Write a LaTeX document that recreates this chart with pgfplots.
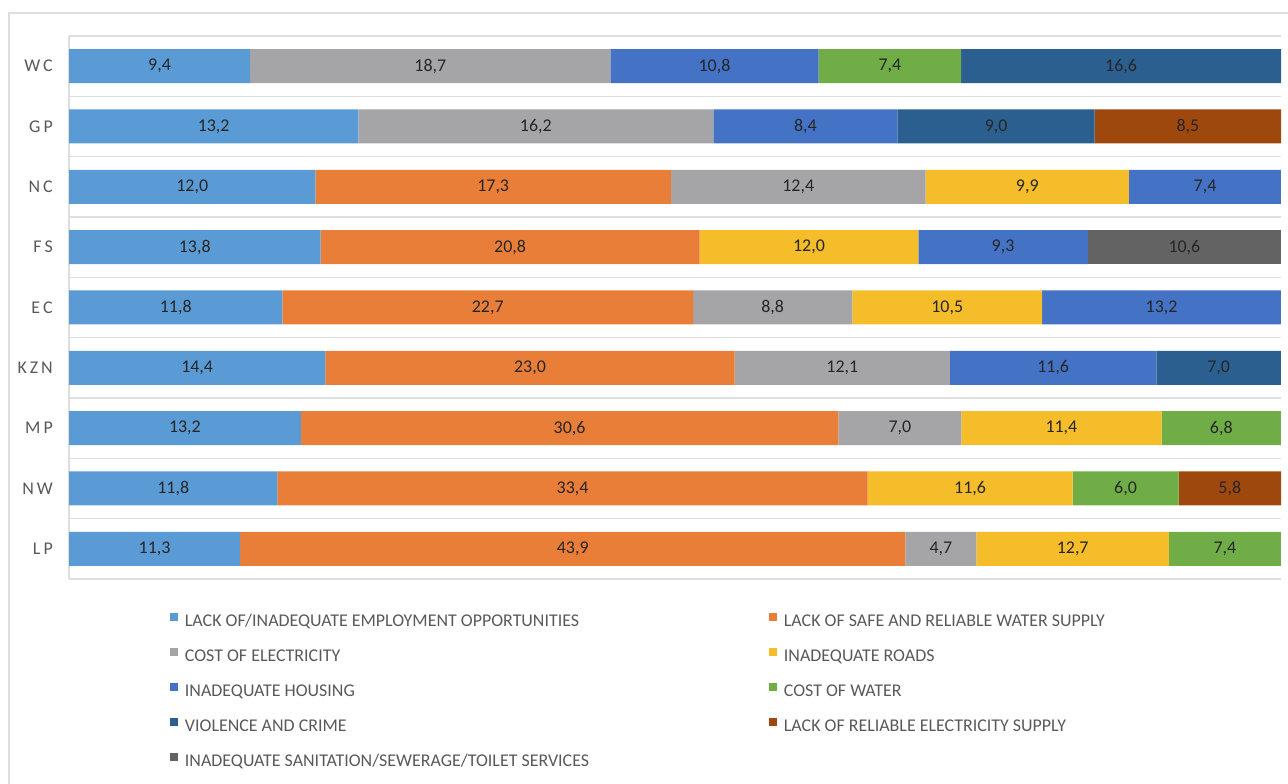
\documentclass[border=0pt]{standalone}
\usepackage{pgfplots}
\usepackage{pgfplotstable}
\pgfplotsset{compat=1.18}
\usepackage{fontspec}
\setmainfont{Carlito}

\definecolor{cEmp}{HTML}{5B9BD5}
\definecolor{cWater}{HTML}{E97E39}
\definecolor{cElec}{HTML}{A5A5A7}
\definecolor{cRoads}{HTML}{F6BD2B}
\definecolor{cHousing}{HTML}{4472C4}
\definecolor{cCWater}{HTML}{70AD47}
\definecolor{cCrime}{HTML}{2B5F8F}
\definecolor{cSupply}{HTML}{9E480E}
\definecolor{cSanit}{HTML}{636363}
\definecolor{gridgray}{HTML}{DEDEDE}
\definecolor{textgray}{HTML}{595959}
\definecolor{labeldark}{HTML}{262626}

% share of households per problem; 0 = not among the province's five
\pgfplotstableread{
y prov emp water elec roads housing cwater crime supply sanit
0 LP  11.3 43.9  4.7 12.7  0.0 7.4  0.0 0.0  0.0
1 NW  11.8 33.4  0.0 11.6  0.0 6.0  0.0 5.8  0.0
2 MP  13.2 30.6  7.0 11.4  0.0 6.8  0.0 0.0  0.0
3 KZN 14.4 23.0 12.1  0.0 11.6 0.0  7.0 0.0  0.0
4 EC  11.8 22.7  8.8 10.5 13.2 0.0  0.0 0.0  0.0
5 FS  13.8 20.8  0.0 12.0  9.3 0.0  0.0 0.0 10.6
6 NC  12.0 17.3 12.4  9.9  7.4 0.0  0.0 0.0  0.0
7 GP  13.2  0.0 16.2  0.0  8.4 0.0  9.0 8.5  0.0
8 WC   9.4  0.0 18.7  0.0 10.8 7.4 16.6 0.0  0.0
}\data
% running sums: where each segment starts, and the bar total
\pgfplotstablecreatecol[create col/expr={0}]{s0}\data
\pgfplotstablecreatecol[create col/expr={\thisrow{emp}}]{s1}\data
\pgfplotstablecreatecol[create col/expr={\thisrow{s1}+\thisrow{water}}]{s2}\data
\pgfplotstablecreatecol[create col/expr={\thisrow{s2}+\thisrow{elec}}]{s3}\data
\pgfplotstablecreatecol[create col/expr={\thisrow{s3}+\thisrow{roads}}]{s4}\data
\pgfplotstablecreatecol[create col/expr={\thisrow{s4}+\thisrow{housing}}]{s5}\data
\pgfplotstablecreatecol[create col/expr={\thisrow{s5}+\thisrow{cwater}}]{s6}\data
\pgfplotstablecreatecol[create col/expr={\thisrow{s6}+\thisrow{crime}}]{s7}\data
\pgfplotstablecreatecol[create col/expr={\thisrow{s7}+\thisrow{supply}}]{s8}\data
\pgfplotstablecreatecol[create col/expr={\thisrow{s8}+\thisrow{sanit}}]{total}\data

% one stacked segment, scaled so each bar fills 100
\newcommand{\segment}[3]{%
  \addplot[fill=#2, draw=none]
    table[y=y, x expr={\thisrow{#1}/\thisrow{total}*100}] {\data};
  \addlegendentry{#3}}
% value label in the middle of a segment (#1 = start column, #2 = value column)
\newcommand{\midlabel}[2]{%
  \addplot[only marks, mark=*, mark size=0pt, mark options={draw=none, fill=none}]
    table[y=y, x expr={(\thisrow{#1}+0.5*\thisrow{#2})/\thisrow{total}*100}, meta=#2] {\data};}

\newcommand{\lfont}{\fontsize{18}{21}\selectfont}
\newcommand{\wcol}[1]{\makebox[584bp][l]{#1}}

\begin{document}
\begin{tikzpicture}
\useasboundingbox (0,0) rectangle (1288bp,784bp);
\draw[gridgray, line width=1.5bp] (9bp,-10bp) -- (9bp,771bp) -- (1300bp,771bp);
\begin{axis}[
  at={(69bp,205bp)}, anchor=south west,
  scale only axis, width=1212bp, height=543bp,
  xbar stacked, bar width=34bp,
  xmin=0, xmax=100, ymin=-0.5, ymax=8.5,
  axis x line=none, axis y line=left,
  y axis line style={-, draw=gridgray, line width=1.2bp},
  ytick={0,...,8},
  yticklabels={L\kern3bp P, N\kern3bp W, M\kern3bp P, K\kern3bp Z\kern3bp N, E\kern3bp C, F\kern3bp S, N\kern3bp C, G\kern3bp P, W\kern3bp C},
  ytick style={draw=none}, major tick length=0pt, minor tick length=0pt,
  yticklabel style={font=\lfont, text=textgray, inner sep=0pt, anchor=east, xshift=-16bp},
  minor ytick={-0.5,0.5,...,8.5},
  yminorgrids, minor grid style={draw=gridgray, line width=1.2bp},
  legend columns=2,
  legend style={
    at={(0.0833,-0.0626)}, anchor=north west,
    draw=none, fill=none, inner sep=0pt, outer sep=0pt,
    font=\lfont, text=textgray,
    row sep=17.5bp, column sep=0pt,
    nodes={inner sep=0pt, text height=12bp, text depth=4bp},
    /tikz/every odd column/.append style={column sep=7bp},
    cells={anchor=west},
  },
  legend image code/.code={\fill[#1] (0bp,1.5bp) rectangle (8bp,9.5bp);},
]
\segment{emp}{cEmp}{\wcol{LACK OF/INADEQUATE EMPLOYMENT OPPORTUNITIES}}
\segment{water}{cWater}{LACK OF SAFE AND RELIABLE WATER SUPPLY}
\segment{elec}{cElec}{\wcol{COST OF ELECTRICITY}}
\segment{roads}{cRoads}{INADEQUATE ROADS}
\segment{housing}{cHousing}{\wcol{INADEQUATE HOUSING}}
\segment{cwater}{cCWater}{COST OF WATER}
\segment{crime}{cCrime}{\wcol{VIOLENCE AND CRIME}}
\segment{supply}{cSupply}{LACK OF RELIABLE ELECTRICITY SUPPLY}
\segment{sanit}{cSanit}{\wcol{INADEQUATE SANITATION/SEWERAGE/TOILET SERVICES}}
\end{axis}
% second, bare axis on the same frame for the value labels
\begin{axis}[
  at={(69bp,205bp)}, anchor=south west,
  scale only axis, width=1212bp, height=543bp,
  xmin=0, xmax=100, ymin=-0.5, ymax=8.5,
  hide axis,
  point meta=explicit,
  nodes near coords={\pgfmathfloatifflags{\pgfplotspointmeta}{0}{}{\pgfmathprintnumber{\pgfplotspointmeta}}},
  every node near coord/.append style={font=\lfont, text=labeldark, inner sep=0pt, anchor=center},
  /pgf/number format/.cd, fixed, fixed zerofill, precision=1, use comma, assume math mode=true, /pgfplots/.cd,
]
\midlabel{s0}{emp}
\midlabel{s1}{water}
\midlabel{s2}{elec}
\midlabel{s3}{roads}
\midlabel{s4}{housing}
\midlabel{s5}{cwater}
\midlabel{s6}{crime}
\midlabel{s7}{supply}
\midlabel{s8}{sanit}
\end{axis}
\end{tikzpicture}
\end{document}
